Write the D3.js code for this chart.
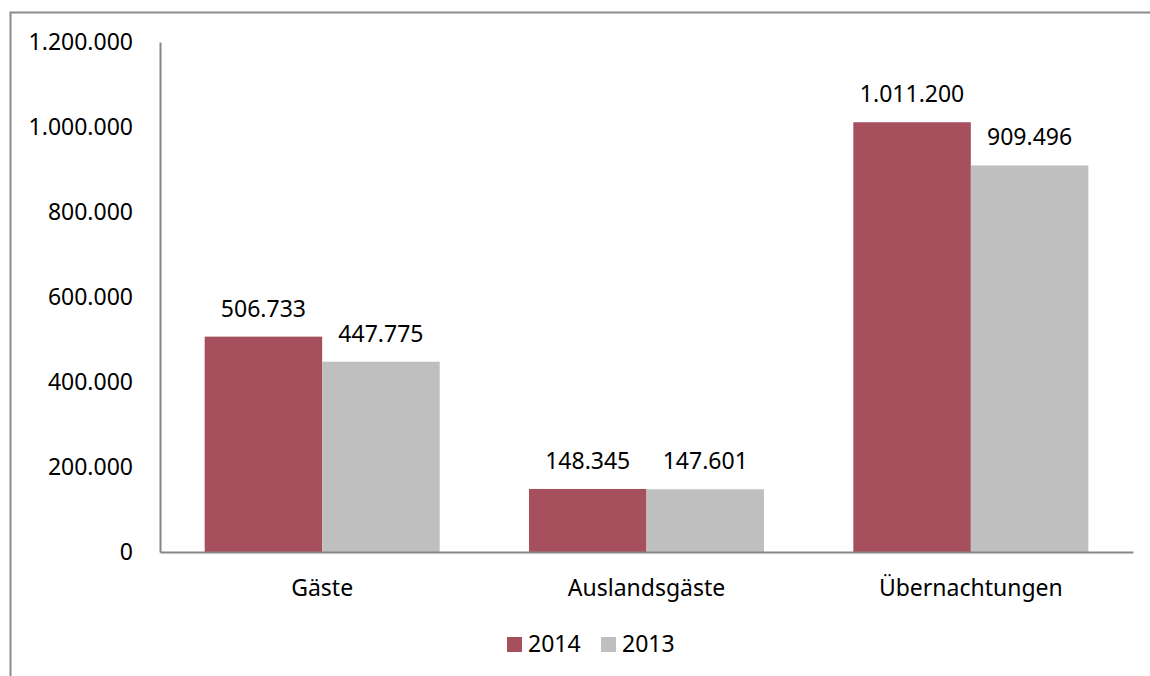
<!DOCTYPE html>
<meta charset="utf-8">
<head>
<script src="https://cdn.jsdelivr.net/npm/d3@7"></script>
<style>
  body { margin: 0; background: #fff; }
  text { font-family: "Noto Sans", sans-serif; fill: #000; }
</style>
</head>
<body>
<div id="chart"></div>
<script>
  // data
  const categories = ["Gäste", "Auslandsgäste", "Übernachtungen"];
  const series = ["2014", "2013"];
  const values2014 = [506733, 148345, 1011200];
  const values2013 = [447775, 147601, 909496];
  const yTicks = [0, 200000, 400000, 600000, 800000, 1000000, 1200000];
  const colors = ["#A6505E", "#BFBFBF"];

  const W = 1150, H = 676;
  const margin = {top: 42, right: 17, bottom: 124, left: 160};
  const width = W - margin.left - margin.right,
        height = H - margin.top - margin.bottom;
  const fs = "23px";

  const fmt = d3.formatLocale({decimal: ",", thousands: ".", grouping: [3], currency: ["", "€"]}).format(",d");

  const svg = d3.select("#chart").append("svg")
    .attr("width", W).attr("height", H);

  // outer frame (runs off the right and bottom edge)
  svg.append("rect")
    .attr("x", 10.5).attr("y", 12.5)
    .attr("width", W).attr("height", H)
    .attr("fill", "none").attr("stroke", "#8c8c8c").attr("stroke-width", 2);

  const g = svg.append("g").attr("transform", `translate(${margin.left},${margin.top})`);

  const x0 = d3.scaleBand().domain(categories).range([0, width]).padding(0);
  const x1 = d3.scaleBand().domain(series).range([0, x0.bandwidth()]).paddingOuter(0.38).paddingInner(0);
  const y = d3.scaleLinear().domain([0, 1200000]).range([height, 0]);

  const rows = categories.map((c, i) => ({cat: c, vals: [values2014[i], values2013[i]]}));

  const groups = g.selectAll("g.cat").data(rows).join("g")
    .attr("class", "cat")
    .attr("transform", d => `translate(${x0(d.cat)},0)`);

  groups.selectAll("rect").data(d => d.vals.map((v, i) => ({s: series[i], v, i}))).join("rect")
    .attr("x", d => x1(d.s))
    .attr("y", d => y(d.v))
    .attr("width", x1.bandwidth())
    .attr("height", d => height - y(d.v))
    .attr("fill", d => colors[d.i]);

  groups.selectAll("text.val").data(d => d.vals.map((v, i) => ({s: series[i], v, i}))).join("text")
    .attr("class", "val")
    .attr("x", d => x1(d.s) + x1.bandwidth() / 2)
    .attr("y", d => y(d.v) - 20)
    .attr("text-anchor", "middle")
    .style("font-size", fs)
    .text(d => fmt(d.v));

  // y axis
  const yAxis = g.append("g")
    .call(d3.axisLeft(y).tickValues(yTicks).tickSize(0).tickPadding(27).tickFormat(fmt));
  yAxis.select(".domain").attr("stroke", "#868686").attr("stroke-width", 2);
  yAxis.selectAll("text").style("font-size", fs).style("font-family", "Noto Sans, sans-serif").attr("fill", "#000");

  // x axis
  const xAxis = g.append("g").attr("transform", `translate(0,${height})`)
    .call(d3.axisBottom(x0).tickSize(0).tickPadding(28));
  xAxis.select(".domain").attr("stroke", "#868686").attr("stroke-width", 2);
  xAxis.selectAll("text").style("font-size", fs).style("font-family", "Noto Sans, sans-serif").attr("fill", "#000");

  // legend
  const legend = svg.append("g").attr("transform", "translate(507,637)");
  const lx = [0, 94];
  series.forEach((s, i) => {
    legend.append("rect").attr("x", lx[i]).attr("y", 0).attr("width", 15).attr("height", 15).attr("fill", colors[i]);
    legend.append("text").attr("x", lx[i] + 21).attr("y", 15).style("font-size", fs).text(s);
  });
</script>
</body>
